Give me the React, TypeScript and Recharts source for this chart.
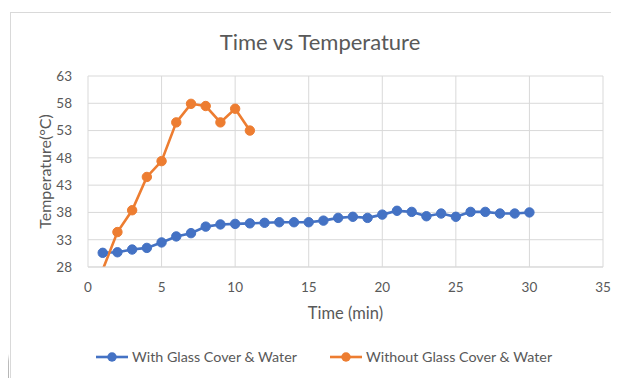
import React from 'react';
import { LineChart, Line, XAxis, YAxis, CartesianGrid, Label } from 'recharts';

const minutes = Array.from({ length: 30 }, (_, i) => i + 1);

const withCover = [
  30.6, 30.7, 31.2, 31.5, 32.5, 33.6, 34.2, 35.4, 35.8, 35.9,
  36.0, 36.1, 36.2, 36.2, 36.2, 36.5, 37.0, 37.2, 37.0, 37.6,
  38.3, 38.1, 37.3, 37.8, 37.2, 38.1, 38.1, 37.8, 37.8, 38.0,
];

const withoutCover = [27.5, 34.4, 38.4, 44.5, 47.4, 54.5, 57.9, 57.5, 54.5, 57.0, 53.0];

const xTicks = [0, 5, 10, 15, 20, 25, 30, 35];
const yTicks = [28, 33, 38, 43, 48, 53, 58, 63];

const BLUE = '#4472C4';
const ORANGE = '#ED7D31';
const TEXT = '#595959';
const GRID = '#d9d9d9';
const FONT = 'Lato, "Open Sans", sans-serif';

const rows = minutes.map((t, i) => ({
  t,
  covered: withCover[i],
  uncovered: i < withoutCover.length ? withoutCover[i] : null,
}));

// Excel hides markers that fall outside the axis range
const makeDot = (color: string) => (props: any) => {
  const { cx, cy, value, index } = props;
  if (value == null || value < yTicks[0]) return <g key={`d-${index}`} />;
  return <circle key={`d-${index}`} cx={cx} cy={cy} r={4.7} fill={color} stroke={color} strokeWidth={1} />;
};

function LegendItem({ color, text, gap }: { color: string; text: string; gap: number }) {
  return (
    <span style={{ display: 'inline-flex', alignItems: 'center', marginRight: gap }}>
      <svg width={34} height={12} style={{ marginRight: 3 }}>
        <line x1={1} y1={6} x2={33} y2={6} stroke={color} strokeWidth={2.6} />
        <circle cx={17} cy={6} r={4.7} fill={color} />
      </svg>
      {text}
    </span>
  );
}

export default function App() {
  return (
    <div style={{ position: 'relative', width: 619, height: 378, marginLeft: -8, marginTop: -8, background: '#fff', overflow: 'hidden', fontFamily: FONT }}>
      <div style={{ position: 'absolute', left: 10, top: 12, width: 700, height: 500, borderLeft: `1px solid ${GRID}`, borderTop: `1px solid ${GRID}` }} />
      <div style={{ position: 'absolute', left: 0, top: 354, width: 9, height: 24, zIndex: 2, background: 'linear-gradient(#ffffff, #bdbdbd 30%, #b5b5b5)' }} />
      <div style={{ position: 'absolute', left: 0, top: 28, width: 640, textAlign: 'center', fontSize: 22, color: TEXT }}>
        Time vs Temperature
      </div>
      <div style={{ position: 'absolute', top: 0, left: 0 }}>
        <LineChart width={619} height={378} data={rows} margin={{ top: 76, right: 16, left: 28, bottom: 56 }}>
          <CartesianGrid stroke={GRID} strokeWidth={1} />
          <XAxis
            dataKey="t"
            type="number"
            domain={[0, 35]}
            ticks={xTicks}
            interval={0}
            height={55}
            stroke={GRID}
            tickLine={false}
            tick={{ fill: TEXT, fontSize: 13.5, fontFamily: FONT }}
            tickMargin={9}
          >
            <Label value="Time (min)" position="insideBottom" offset={3} style={{ fill: TEXT, fontSize: 16.5, fontFamily: FONT }} />
          </XAxis>
          <YAxis
            type="number"
            domain={[28, 63]}
            ticks={yTicks}
            interval={0}
            allowDataOverflow
            width={60}
            axisLine={false}
            tickLine={false}
            tick={{ fill: TEXT, fontSize: 13.5, fontFamily: FONT }}
            tickMargin={10}
          >
            <Label value="Temperature(°C)" angle={-90} position="insideLeft" offset={17} style={{ fill: TEXT, fontSize: 16, fontFamily: FONT, textAnchor: 'middle' }} />
          </YAxis>
          <Line
            dataKey="covered"
            stroke={BLUE}
            strokeWidth={2.6}
            dot={makeDot(BLUE)}
            activeDot={false}
            isAnimationActive={false}
          />
          <Line
            dataKey="uncovered"
            stroke={ORANGE}
            strokeWidth={2.6}
            dot={makeDot(ORANGE)}
            activeDot={false}
            connectNulls={false}
            isAnimationActive={false}
          />
        </LineChart>
      </div>
      <div style={{ position: 'absolute', left: 95, top: 348, fontSize: 14.3, color: TEXT, whiteSpace: 'nowrap', display: 'flex' }}>
        <LegendItem color={BLUE} text="With Glass Cover & Water" gap={32} />
        <LegendItem color={ORANGE} text="Without Glass Cover & Water" gap={0} />
      </div>
    </div>
  );
}
